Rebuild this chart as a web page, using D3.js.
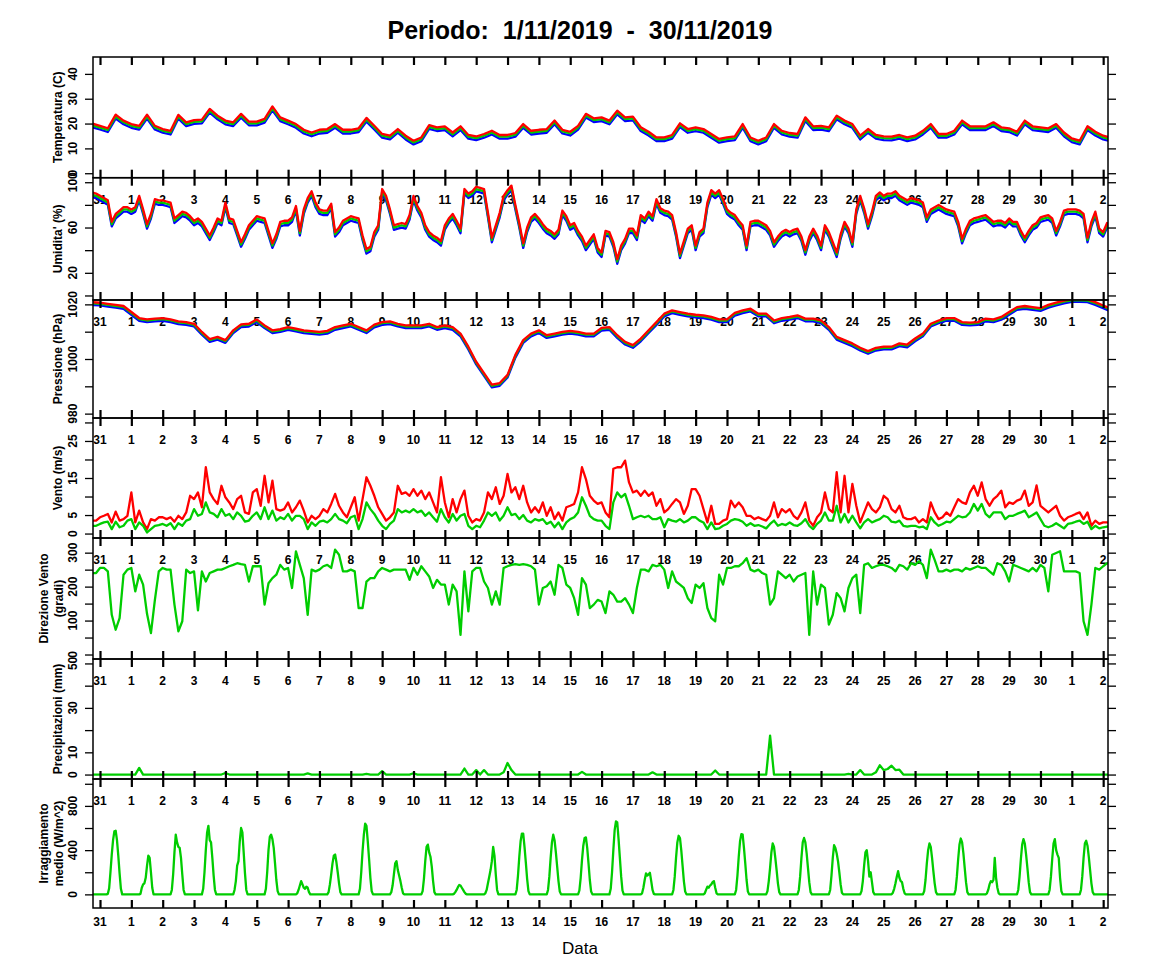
<!DOCTYPE html>
<html>
<head>
<meta charset="utf-8">
<script src="https://cdn.jsdelivr.net/npm/d3@7"></script>
<style>
  body { margin: 0; background: #fff; }
  svg { display: block; font-family: "Liberation Sans", Arial, Helvetica, sans-serif; }
</style>
</head>
<body>
<svg id="chart" width="1152" height="972"></svg>
<script>
// ─── Data ─────────────────────────────────────────────────────────────────────
// time in hours from 31/10 00:00

const dayLabels = ["31", "1", "2", "3", "4", "5", "6", "7", "8", "9", "10", "11", "12", "13", "14", "15",
  "16", "17", "18", "19", "20", "21", "22", "23", "24", "25", "26", "27", "28", "29", "30", "1", "2"];

// temperature, every 6 h from -6 h
const tempMean = [19.3, 18.4,17.4,22.8,20.5, 19.1,18.4,22.8,18.4, 17.1,16.4,22.8,19.8, 20.7,20.9,25.2,22.5,
  20.5,19.8,23.2,20.1, 20.1,21.2,26.1,21.8, 20.5,19.1,16.8,15.7, 16.8,17.1,19.1,16.8, 16.8,17.4,21.6,18.4,
  15.1,14.4,17.1,14.4, 12.4,13.7,18.7,17.8, 18.2,15.7,18.2,14.7, 14.1,15.1,16.4,14.7, 14.7,15.5,19.1,16.4,
  16.8,17.1,20.5,16.8, 16.0,18.4,23.2,21.4, 21.8,20.5,24.5,21.8, 22.1,17.8,16.0,13.7, 13.7,14.7,19.4,17.1,
  17.8,17.1,15.1,13.1, 13.7,14.1,19.1,13.7, 12.4,13.7,19.1,16.4, 15.5,15.1,21.8,18.2, 18.4,17.8,22.5,20.5,
  19.1,14.4,17.1,14.7, 14.1,14.0,14.7,13.7, 14.4,16.4,19.1,15.1, 15.1,16.4,20.5,18.2, 18.2,18.2,19.8,17.8,
  17.4,16.0,20.5,18.2, 17.8,17.4,19.1,15.7, 13.3,12.4,18.2,16.0, 14.4,13.6];
const tempMax = [20.0, 19.1,18.1,23.6,21.2, 19.8,19.1,23.6,19.1, 17.8,17.1,23.5,20.5, 21.4,21.6,25.9,23.2,
  21.2,20.5,23.9,20.8, 20.8,21.9,26.9,22.5, 21.2,19.8,17.5,16.4, 17.5,17.8,19.8,17.5, 17.5,18.1,22.3,19.1,
  15.8,15.1,17.8,15.1, 13.1,14.4,19.4,18.5, 18.9,16.4,18.9,15.4, 14.8,15.8,17.1,15.4, 15.4,16.2,19.8,17.1,
  17.5,17.8,21.2,17.5, 16.7,19.1,23.9,22.1, 22.5,21.2,25.2,22.5, 22.8,18.5,16.7,14.4, 14.4,15.4,20.1,17.8,
  18.5,17.8,15.8,13.8, 14.4,14.8,19.8,14.4, 13.1,14.4,19.8,17.1, 16.2,15.8,22.5,18.9, 19.1,18.5,23.2,21.2,
  19.8,15.1,17.8,15.4, 14.8,14.7,15.4,14.4, 15.1,17.1,19.8,15.8, 15.8,17.1,21.2,18.9, 18.9,18.9,20.5,18.5,
  18.1,16.7,21.2,18.9, 18.5,18.1,19.8,16.4, 14.0,13.1,18.9,16.7, 15.1,14.3];
const tempMin = [18.5, 17.6,16.6,22.0,19.7, 18.3,17.6,22.0,17.6, 16.3,15.6,22.0,19.0, 19.9,20.1,24.4,21.7,
  19.7,19.0,22.4,19.3, 19.3,20.4,25.3,21.0, 19.7,18.3,16.0,14.9, 16.0,16.3,18.3,16.0, 16.0,16.6,20.8,17.6,
  14.3,13.6,16.3,13.6, 11.6,12.9,17.9,17.0, 17.4,14.9,17.4,13.9, 13.3,14.3,15.6,13.9, 13.9,14.7,18.3,15.6,
  16.0,16.3,19.7,16.0, 15.2,17.6,22.4,20.6, 21.0,19.7,23.7,21.0, 21.3,17.0,15.2,12.9, 12.9,13.9,18.6,16.3,
  17.0,16.3,14.3,12.3, 12.9,13.3,18.3,12.9, 11.6,12.9,18.3,15.6, 14.7,14.3,21.0,17.4, 17.6,17.0,21.7,19.7,
  18.3,13.6,16.3,13.9, 13.3,13.2,13.9,12.9, 13.6,15.6,18.3,14.3, 14.3,15.6,19.7,17.4, 17.4,17.4,19.0,17.0,
  16.6,15.2,19.7,17.4, 17.0,16.6,18.3,14.9, 12.5,11.6,17.4,15.2, 13.6,12.8];

// relative humidity, every 3 h from -6 h
const humMean = [89, 88,
  86,84,82,63,70,73,76,76,  74,76,86,74,61,70,83,82,  82,81,80,66,69,72,71,68,  64,66,63,57,51,58,66,64,
  80,66,65,55,45,52,60,64,  68,67,66,55,44,52,63,64,  64,67,77,55,74,84,90,80,  74,73,73,79,54,58,64,66,
  68,67,66,51,39,41,54,60,  92,86,74,60,61,62,61,69,  86,77,71,60,54,51,49,46,  60,66,70,64,57,92,88,90,
  94,93,92,71,49,60,71,86,  91,95,78,62,44,58,67,70,  66,61,57,55,52,56,73,68,  60,62,55,50,42,47,52,40,
  36,55,54,45,30,42,48,57,  57,51,69,66,72,68,83,75,  73,72,69,54,35,46,57,60,  42,54,57,80,91,88,91,83,
  74,71,69,64,60,42,63,64,  64,62,60,55,45,50,54,56,  54,56,57,50,38,50,57,51,  42,60,54,45,36,52,63,57,
  45,74,86,75,61,72,86,89,  86,88,88,90,86,84,82,84,  83,82,80,67,74,76,78,76,  74,73,72,63,48,57,64,66,
  67,68,69,66,63,64,64,62,  66,63,63,55,49,55,60,62,  67,68,69,66,55,63,73,74,  74,74,73,70,49,63,72,57,
  54,62,60];
const humMax = [91, 90,
  88,86,84,65,72,75,78,78,  76,78,88,76,63,72,85,84,  84,83,82,68,71,74,73,70,  66,68,65,59,53,60,68,66,
  82,68,67,57,47,54,62,66,  70,69,68,57,46,54,65,66,  66,69,79,57,76,86,92,82,  76,75,75,81,56,60,66,68,
  70,69,68,53,41,43,56,62,  94,88,76,62,63,64,63,71,  88,79,73,62,56,53,51,48,  62,68,72,66,59,94,90,92,
  96,95,94,73,51,62,73,88,  93,97,80,64,46,60,69,72,  68,63,59,57,54,58,75,70,  62,64,57,52,44,49,54,42,
  38,57,56,47,32,44,50,59,  59,53,71,68,74,70,85,77,  75,74,71,56,37,48,59,62,  44,56,59,82,93,90,93,85,
  76,73,71,66,62,44,65,66,  66,64,62,57,47,52,56,58,  56,58,59,52,40,52,59,53,  44,62,56,47,38,54,65,59,
  47,76,88,77,63,74,88,91,  88,90,90,92,88,86,84,86,  85,84,82,69,76,78,80,78,  76,75,74,65,50,59,66,68,
  69,70,71,68,65,66,66,64,  68,65,65,57,51,57,62,64,  69,70,71,68,57,65,75,76,  76,76,75,72,51,65,74,59,
  56,64,62];
const humMin = [87, 86,
  84,82,80,61,68,71,74,74,  72,74,84,72,59,68,81,80,  80,79,78,64,67,70,69,66,  62,64,61,55,49,56,64,62,
  78,64,63,53,43,50,58,62,  66,65,64,53,42,50,61,62,  62,65,75,53,72,82,88,78,  72,71,71,77,52,56,62,64,
  66,65,64,49,37,39,52,58,  90,84,72,58,59,60,59,67,  84,75,69,58,52,49,47,44,  58,64,68,62,55,90,86,88,
  92,91,90,69,47,58,69,84,  89,93,76,60,42,56,65,68,  64,59,55,53,50,54,71,66,  58,60,53,48,40,45,50,38,
  34,53,52,43,28,40,46,55,  55,49,67,64,70,66,81,73,  71,70,67,52,33,44,55,58,  40,52,55,78,89,86,89,81,
  72,69,67,62,58,40,61,62,  62,60,58,53,43,48,52,54,  52,54,55,48,36,48,55,49,  40,58,52,43,34,50,61,55,
  43,72,84,73,59,70,84,87,  84,86,86,88,84,82,80,82,  81,80,78,65,72,74,76,74,  72,71,70,61,46,55,62,64,
  65,66,67,64,61,62,62,60,  64,61,61,53,47,53,58,60,  65,66,67,64,53,61,71,72,  72,72,71,68,47,61,70,55,
  52,60,58];

// pressure, every 6 h from -6 h
const presMean = [1020.4, 1020.2,1019.8,1019.4,1019.0, 1016.8,1014.6,1014.1,1014.4, 1014.6,1014.1,1013.4,1013.1,
  1012.5,1009.5,1006.9,1007.7, 1006.5,1010.1,1012.3,1012.5, 1014.1,1011.9,1010.1,1010.5, 1011.3,1010.7,1010.1,1009.8,
  1009.5,1009.9,1011.3,1011.9, 1012.5,1011.3,1010.1,1012.2, 1013.1,1013.4,1012.5,1011.9, 1011.9,1011.9,1012.5,1011.3,
  1011.9,1011.3,1008.9,1004.1, 998.6,994.4,990.2,990.8, 993.8,1001.1,1006.5,1008.9, 1010.1,1008.3,1008.9,1009.5,
  1009.9,1009.5,1008.9,1008.9, 1011.0,1011.3,1008.3,1005.9, 1004.7,1007.1,1010.1,1013.1, 1016.2,1017.4,1016.8,1016.2,
  1015.8,1015.6,1015.0,1014.1, 1014.1,1016.5,1017.4,1018.0, 1016.2,1016.2,1013.7,1014.6, 1015.0,1015.6,1014.4,1014.4,
  1013.7,1011.3,1007.7,1006.5, 1005.3,1003.7,1002.5,1003.7, 1004.1,1004.1,1005.3,1004.9, 1007.1,1008.9,1012.5,1013.7,
  1014.6,1014.6,1013.1,1012.9, 1013.1,1014.4,1014.1,1015.0, 1016.8,1018.6,1019.0,1018.6, 1018.2,1019.4,1020.2,1021.0,
  1021.5,1021.5,1021.4,1020.4, 1019.2,1018.0];
const presMax = [1020.8, 1020.6,1020.2,1019.8,1019.4, 1017.2,1015.0,1014.5,1014.8, 1015.0,1014.5,1013.8,1013.5,
  1012.9,1009.9,1007.3,1008.1, 1006.9,1010.5,1012.7,1012.9, 1014.5,1012.3,1010.5,1010.9, 1011.7,1011.1,1010.5,1010.2,
  1009.9,1010.3,1011.7,1012.3, 1012.9,1011.7,1010.5,1012.6, 1013.5,1013.8,1012.9,1012.3, 1012.3,1012.3,1012.9,1011.7,
  1012.3,1011.7,1009.3,1004.5, 999.0,994.8,990.6,991.2, 994.2,1001.5,1006.9,1009.3, 1010.5,1008.7,1009.3,1009.9,
  1010.3,1009.9,1009.3,1009.3, 1011.4,1011.7,1008.7,1006.3, 1005.1,1007.5,1010.5,1013.5, 1016.6,1017.8,1017.2,1016.6,
  1016.2,1016.0,1015.4,1014.5, 1014.5,1016.9,1017.8,1018.4, 1016.6,1016.6,1014.1,1015.0, 1015.4,1016.0,1014.8,1014.8,
  1014.1,1011.7,1008.1,1006.9, 1005.7,1004.1,1002.9,1004.1, 1004.5,1004.5,1005.7,1005.3, 1007.5,1009.3,1012.9,1014.1,
  1015.0,1015.0,1013.5,1013.3, 1013.5,1014.8,1014.5,1015.4, 1017.2,1019.0,1019.4,1019.0, 1018.6,1019.8,1020.6,1021.4,
  1021.9,1021.9,1021.8,1020.8, 1019.6,1018.4];
const presMin = [1019.8, 1019.6,1019.2,1018.8,1018.4, 1016.2,1014.0,1013.5,1013.8, 1014.0,1013.5,1012.8,1012.5,
  1011.9,1008.9,1006.3,1007.1, 1005.9,1009.5,1011.7,1011.9, 1013.5,1011.3,1009.5,1009.9, 1010.7,1010.1,1009.5,1009.2,
  1008.9,1009.3,1010.7,1011.3, 1011.9,1010.7,1009.5,1011.6, 1012.5,1012.8,1011.9,1011.3, 1011.3,1011.3,1011.9,1010.7,
  1011.3,1010.7,1008.3,1003.5, 998.0,993.8,989.6,990.2, 993.2,1000.5,1005.9,1008.3, 1009.5,1007.7,1008.3,1008.9,
  1009.3,1008.9,1008.3,1008.3, 1010.4,1010.7,1007.7,1005.3, 1004.1,1006.5,1009.5,1012.5, 1015.6,1016.8,1016.2,1015.6,
  1015.2,1015.0,1014.4,1013.5, 1013.5,1015.9,1016.8,1017.4, 1015.6,1015.6,1013.1,1014.0, 1014.4,1015.0,1013.8,1013.8,
  1013.1,1010.7,1007.1,1005.9, 1004.7,1003.1,1001.9,1003.1, 1003.5,1003.5,1004.7,1004.3, 1006.5,1008.3,1011.9,1013.1,
  1014.0,1014.0,1012.5,1012.3, 1012.5,1013.8,1013.5,1014.4, 1016.2,1018.0,1018.4,1018.0, 1017.6,1018.8,1019.6,1020.4,
  1020.9,1020.9,1020.8,1019.8, 1018.6,1017.4];

// wind speed, every 3 h from -6 h
const windGust = [3.5, 3.5,
  4.4,4.8,5.3,3.0,5.9,3.5,3.9,4.8,  11.1,3.0,6.2,3.0,1.2,3.9,3.5,4.4,  4.4,3.9,4.4,3.2,4.8,3.9,5.7,10.2,
  9.3,11.1,7.1,17.9,11.1,9.3,8.0,12.9,  9.8,8.4,6.6,9.3,10.2,5.7,5.3,11.1,  12.0,7.5,15.6,8.4,14.3,6.6,6.2,6.6,
  8.4,5.7,7.1,8.9,6.2,3.0,4.8,3.9,  4.8,6.6,5.7,8.0,10.7,7.5,5.7,4.4,  7.1,9.8,3.5,9.3,15.2,12.9,10.2,7.1,
  5.3,3.5,4.4,5.7,12.9,10.7,11.1,10.2,  12.0,10.2,11.6,9.3,11.1,8.4,5.7,15.2,  8.4,4.4,9.3,5.7,9.3,11.6,4.8,3.0,
  3.9,3.5,5.7,11.1,9.3,12.5,8.0,10.2,  16.1,11.1,12.5,9.3,12.9,8.4,5.7,7.1,  5.7,8.4,4.8,7.1,3.9,5.7,3.5,7.1,
  7.5,8.0,11.1,17.9,14.7,10.2,8.9,8.0,  8.4,5.7,4.4,17.5,17.9,17.9,19.7,13.8,  11.1,11.6,10.2,11.6,10.2,11.1,7.5,9.3,
  5.7,6.6,8.0,9.3,8.4,5.3,7.5,12.0,  12.0,10.2,6.6,3.0,7.5,2.6,2.6,3.5,  3.9,8.9,7.1,8.4,7.1,4.8,4.8,3.9,
  4.4,3.9,3.5,4.8,8.4,4.4,6.6,5.7,  6.6,4.8,3.9,5.7,8.4,3.5,2.1,4.4,  5.7,11.1,6.6,5.7,16.6,5.7,15.6,5.7,
  13.4,7.5,3.0,5.7,8.4,6.6,5.7,7.1,  10.2,9.3,6.6,5.7,7.5,4.4,3.9,3.9,  4.4,3.0,3.9,3.0,8.4,5.7,3.9,4.4,
  5.7,4.8,7.1,9.3,8.4,8.0,11.1,12.9,  10.2,13.8,9.3,7.5,9.3,10.2,11.6,7.1,  8.4,8.0,8.9,9.3,11.6,7.5,8.4,13.0,
  7.5,6.6,5.7,6.6,7.5,4.8,3.5,4.4,  4.8,5.3,5.7,3.9,5.7,2.1,3.5,2.6,
  3.0,3.0,2.8];
const windMean = [2.1, 2.1,
  2.6,3.0,3.2,1.2,3.2,1.7,2.1,3.5,  3.9,1.2,3.0,2.1,0.3,1.2,2.1,2.3,  2.6,2.1,2.8,1.2,2.8,2.1,3.5,3.9,
  6.6,4.8,5.3,8.4,5.7,5.3,4.4,6.6,  4.8,5.3,3.9,5.7,4.8,3.2,3.5,4.8,  5.7,3.9,7.1,3.9,6.2,3.5,4.4,3.9,
  5.3,3.5,4.8,4.8,3.9,1.2,3.0,2.1,  3.2,3.5,3.0,3.9,5.3,3.9,3.5,2.8,  4.4,4.8,1.2,3.9,8.4,6.6,5.3,3.5,
  2.1,1.2,2.6,3.5,6.6,5.7,6.2,5.7,  6.6,5.7,6.2,4.8,5.7,4.4,3.2,6.6,  4.4,3.0,5.3,3.5,4.8,5.3,2.1,1.2,
  2.1,1.7,3.5,5.7,4.8,5.7,3.5,4.8,  7.1,5.0,5.3,3.9,5.0,3.5,3.0,3.9,  3.5,3.9,2.6,3.2,1.7,3.0,1.2,3.0,
  3.9,4.4,5.7,9.8,7.5,4.8,3.9,3.5,  3.5,2.1,1.2,8.4,11.1,9.8,10.7,7.5,  3.9,4.4,4.8,4.4,4.8,3.9,3.9,4.4,
  1.7,3.9,3.5,3.2,3.9,3.0,3.5,4.4,  4.4,3.5,3.0,1.2,3.0,1.2,1.4,2.1,  2.6,3.5,3.9,3.7,3.2,2.1,2.8,2.1,
  2.3,1.9,1.4,2.6,3.5,2.1,2.6,2.3,  3.0,2.3,2.1,2.8,3.9,2.1,1.2,2.6,  3.5,5.7,3.5,3.5,7.5,3.0,5.3,3.0,
  4.8,3.0,1.4,3.0,3.9,3.0,3.5,3.9,  4.8,4.4,3.2,3.0,3.5,2.1,1.9,2.1,  2.1,1.7,1.9,1.2,4.4,3.0,2.1,2.6,
  3.2,3.0,3.9,4.8,4.4,4.6,5.7,8.0,  6.2,8.0,5.3,4.4,5.7,5.7,5.7,3.9,  4.8,4.8,5.3,5.7,6.2,4.4,5.0,5.7,
  3.9,2.1,1.7,2.1,2.8,2.1,1.4,2.6,  2.8,3.2,3.5,2.6,3.2,1.2,2.1,1.4,
  1.7,1.9,1.8];

// wind direction, every 3 h from -6 h
const windDir = [240, 240,
  255,255,245,117,73,107,235,250,  255,186,235,206,120,63,160,245,  255,250,250,147,68,98,250,240,
  245,130,245,215,240,245,250,250,  255,260,264,269,266,264,215,260,  260,260,147,210,225,235,264,250,
  255,196,304,264,225,117,250,245,  250,260,264,255,309,294,245,245,  250,245,137,137,215,225,225,245,
  255,250,245,250,250,250,250,220,  255,235,260,245,230,196,220,206,  206,147,206,186,58,245,127,245,
  255,255,215,196,147,186,147,255,  260,264,266,264,266,264,260,250,  147,196,201,215,176,264,255,206,
  196,166,117,225,206,137,147,161,  156,122,186,176,156,156,166,147,  122,196,250,250,245,264,260,264,
  250,196,245,215,206,196,166,152,  206,196,210,137,107,98,235,206,  255,255,260,260,269,284,250,245,
  250,240,235,147,166,245,235,225,  235,215,230,235,240,58,245,147,  206,196,88,117,181,166,127,196,
  225,235,122,264,269,255,260,264,  264,260,255,245,264,260,250,269,  264,274,264,225,309,279,245,245,
  250,245,250,250,245,255,250,255,  260,255,255,245,235,269,264,245,  215,264,260,255,250,245,255,245,
  264,255,186,294,299,304,245,245,  245,245,240,98,58,147,255,250,
  260,269,265];

// precipitation, every 3 h from -6 h
const rain = [0, 0,
  0,0,0,0,0,0,0,0,  0,0,3.0,0,0,0,0,0,  0,0,0,0,0,0,0,0,  0,0,0,0,0,0,0,0,
  0.7,0,0,0,0,0,0,0,  0,0,0,0,0,0,0,0,  0,0,0,0,0,0.5,0,0,  0,0,0,0,0,0,0,0,
  0,0,0,0,0.3,0,0,0,  1.5,0,0,0,0,0,0,0,  0.6,0,0,0,0,0,0,0,  0,0,0,0,0,2.7,0,0,
  2.0,0,2.0,0,0,0,0,1.0,  5.2,2.0,0,0,0,0,0,0,  0,0,0,0,0,0,0,0,  0,0,0,1.2,0,0,0,0,
  0,0,0,0,0,0,0,0,  0,0,0,0,0,1.0,0,0,  0,0,0,0,0,0,0,0,  0,0,0,0,0,1.8,0,0,
  0,0,0,0,0,0,0,0,  0,0,0,17.5,0,0,0,0,  0,0,0,0,0,0,0,0,  0,0,0,0,0,0,0,0.3,
  0,0,2.0,0,0,0,1.0,4.2,  2.0,2.5,4.0,2.0,2.2,0,0,0,  0,0,0,0,0,0,0,0,  0,0,0,0,0,0,0,0,
  0,0,0,0,0,0,0,0,  0,0,0,0,0,0,0,0,  0,0,0,0,0,0,0,0,  0,0,0,0,0,0,0,0,
  0,0,0];

// mean solar radiation, hourly from 06 to 17 for each day 31/10 .. 1/12 (night is 0)
const radByDay = [
  [5, 55, 200, 360, 490, 570, 575, 490, 350, 190, 50, 0],
  [0, 5, 60, 90, 100, 150, 260, 350, 330, 200, 60, 0],
  [0, 40, 180, 380, 540, 470, 430, 420, 330, 180, 40, 0],
  [0, 50, 200, 400, 560, 620, 490, 470, 330, 170, 40, 0],
  [0, 40, 120, 260, 300, 480, 600, 560, 380, 190, 40, 0],
  [0, 50, 200, 400, 520, 540, 500, 420, 280, 130, 30, 0],
  [0, 10, 40, 80, 120, 90, 60, 50, 70, 60, 20, 0],
  [0, 20, 90, 180, 280, 350, 360, 290, 200, 100, 20, 0],
  [0, 50, 200, 390, 540, 640, 620, 480, 320, 150, 30, 0],
  [0, 20, 80, 180, 280, 300, 220, 170, 120, 60, 10, 0],
  [0, 30, 140, 300, 430, 450, 380, 340, 250, 120, 20, 0],
  [0, 5, 20, 40, 65, 85, 80, 60, 40, 20, 5, 0],
  [0, 10, 40, 100, 160, 220, 300, 430, 350, 180, 40, 0],
  [0, 40, 170, 340, 480, 550, 550, 430, 290, 140, 30, 0],
  [0, 40, 160, 330, 470, 540, 490, 380, 250, 120, 25, 0],
  [0, 35, 150, 310, 440, 510, 515, 420, 280, 130, 25, 0],
  [0, 50, 200, 400, 580, 660, 650, 500, 330, 160, 35, 0],
  [0, 10, 60, 130, 190, 170, 180, 195, 120, 40, 5, 0],
  [0, 40, 160, 330, 470, 530, 510, 400, 260, 120, 25, 0],
  [0, 10, 40, 70, 60, 80, 90, 110, 120, 60, 10, 0],
  [0, 40, 170, 340, 480, 545, 540, 420, 280, 130, 25, 0],
  [0, 30, 120, 240, 380, 460, 430, 330, 220, 100, 20, 0],
  [0, 40, 160, 330, 470, 510, 470, 370, 240, 110, 20, 0],
  [0, 40, 170, 330, 445, 420, 370, 300, 200, 90, 15, 0],
  [0, 30, 120, 260, 380, 400, 300, 160, 200, 110, 20, 0],
  [0, 15, 50, 100, 160, 210, 150, 120, 110, 50, 10, 0],
  [0, 30, 130, 280, 400, 460, 430, 330, 210, 100, 20, 0],
  [0, 40, 160, 320, 450, 505, 470, 370, 240, 110, 20, 0],
  [0, 10, 40, 90, 120, 110, 130, 330, 150, 60, 10, 0],
  [0, 40, 160, 320, 450, 500, 460, 360, 240, 110, 20, 0],
  [0, 40, 160, 320, 460, 500, 400, 360, 330, 150, 30, 0],
  [0, 40, 160, 330, 460, 485, 440, 340, 220, 100, 20, 0]
];

// ─── Helpers ──────────────────────────────────────────────────────────────────

const BLUE = "#0000ff", GREEN = "#00cd00", RED = "#ff0000";

function series(values, start, step) {
  return values.map((v, i) => ({ t: start + i * step, v }));
}

function radiationSeries() {
  const out = [];
  for (let h = -6; h <= 774; h++) {
    const day = Math.floor(h / 24);
    const hr = ((h % 24) + 24) % 24;
    const row = radByDay[day];
    out.push({ t: h, v: row && hr >= 6 && hr <= 17 ? row[hr - 6] : 0 });
  }
  return out;
}

// ─── Layout ───────────────────────────────────────────────────────────────────

const left = 93, right = 1108;
const x = d3.scaleLinear().domain([-5.36, 771.7]).range([left, right]);
const dayTicks = dayLabels.map((d, i) => i * 24);

const panels = [
  { title: ["Temperatura (C)"], top: 57, bottom: 177.7, domain: [-1.8, 46.8],
    ticks: [0, 10, 20, 30, 40], labels: [0, 10, 20, 30, 40],
    lines: [[series(tempMin, -6, 6), BLUE], [series(tempMean, -6, 6), GREEN], [series(tempMax, -6, 6), RED]] },
  { title: ["Umidita' (%)"], top: 177.7, bottom: 300, domain: [-4, 104],
    ticks: [0, 20, 40, 60, 80, 100], labels: [20, 60, 100],
    lines: [[series(humMin, -6, 3), BLUE], [series(humMean, -6, 3), GREEN], [series(humMax, -6, 3), RED]] },
  { title: ["Pressione (hPa)"], top: 300, bottom: 418, domain: [978.4, 1021.6],
    ticks: [980, 990, 1000, 1010, 1020], labels: [980, 1000, 1020],
    lines: [[series(presMin, -6, 6), BLUE], [series(presMean, -6, 6), GREEN], [series(presMax, -6, 6), RED]] },
  { title: ["Vento (m/s)"], top: 418, bottom: 538, domain: [-1.2, 31.2],
    ticks: [0, 5, 10, 15, 20, 25, 30], labels: [0, 5, 15, 25],
    lines: [[series(windGust, -6, 3), RED], [series(windMean, -6, 3), GREEN]] },
  { title: ["Direzione Vento", "(gradi)"], top: 538, bottom: 659, domain: [-13.2, 343.2],
    ticks: [0, 50, 100, 150, 200, 250, 300], labels: [0, 100, 200, 300],
    lines: [[series(windDir, -6, 3), GREEN]] },
  { title: ["Precipitazioni (mm)"], top: 659, bottom: 779, domain: [-2, 52],
    ticks: [0, 10, 20, 30, 40, 50], labels: [0, 10, 30, 50],
    lines: [[series(rain, -6, 3), GREEN]] },
  { title: ["Irraggiamento", "medio (W/m^2)"], top: 779, bottom: 908, domain: [-123.2, 1043.2],
    ticks: [0, 200, 400, 600, 800, 1000], labels: [0, 400, 800],
    lines: [[radiationSeries(), GREEN]] }
];

const svg = d3.select("#chart");

svg.append("rect").attr("width", 1152).attr("height", 972).attr("fill", "#fff");

// ─── Title ────────────────────────────────────────────────────────────────────

svg.append("text")
  .attr("x", 580)
  .attr("y", 39)
  .attr("text-anchor", "middle")
  .attr("font-size", "25px")
  .attr("font-weight", "700")
  .style("white-space", "pre")
  .text("Periodo:  1/11/2019  -  30/11/2019");

// ─── Panels ───────────────────────────────────────────────────────────────────

panels.forEach((p, k) => {
  const y = d3.scaleLinear().domain(p.domain).range([p.bottom, p.top]);
  const g = svg.append("g");

  const clipId = "clip" + k;
  svg.append("clipPath").attr("id", clipId)
    .append("rect")
    .attr("x", left).attr("y", p.top)
    .attr("width", right - left).attr("height", p.bottom - p.top);

  const line = d3.line().x(d => x(d.t)).y(d => y(d.v));

  g.append("g").attr("clip-path", `url(#${clipId})`)
    .selectAll("path")
    .data(p.lines)
    .join("path")
    .attr("d", d => line(d[0]))
    .attr("fill", "none")
    .attr("stroke", d => d[1])
    .attr("stroke-width", 2.3)
    .attr("stroke-linejoin", "round");

  // y axes, ticks only
  const yLeft = g.append("g")
    .attr("transform", `translate(${left},0)`)
    .call(d3.axisLeft(y).tickValues(p.ticks).tickSize(8).tickFormat(""));
  const yRight = g.append("g")
    .attr("transform", `translate(${right},0)`)
    .call(d3.axisRight(y).tickValues(p.ticks).tickSize(8).tickFormat(""));
  [yLeft, yRight].forEach(a => {
    a.select(".domain").remove();
    a.selectAll("line").attr("stroke", "#000").attr("stroke-width", 1.3);
  });

  // rotated y labels
  g.selectAll(".ylab")
    .data(p.labels)
    .join("text")
    .attr("class", "ylab")
    .attr("transform", d => `translate(${left - 16.5},${y(d)}) rotate(-90)`)
    .attr("text-anchor", "middle")
    .attr("font-size", "12px")
    .attr("font-weight", "700")
    .text(d => d);

  // axis title
  const mid = (p.top + p.bottom) / 2;
  const titleX = p.title.length === 1 ? [58] : [44, 59];
  p.title.forEach((t, i) => {
    g.append("text")
      .attr("transform", `translate(${titleX[i] + 4},${mid}) rotate(-90)`)
      .attr("text-anchor", "middle")
      .attr("font-size", "12px")
      .attr("font-weight", "700")
      .text(t);
  });

  // day ticks: top pointing down, bottom pointing up
  const xTop = g.append("g")
    .attr("transform", `translate(0,${p.top})`)
    .call(d3.axisTop(x).tickValues(dayTicks).tickSize(-8).tickFormat(""));
  const xBottom = g.append("g")
    .attr("transform", `translate(0,${p.bottom})`)
    .call(d3.axisBottom(x).tickValues(dayTicks).tickSize(-8).tickFormat(""));
  [xTop, xBottom].forEach(a => {
    a.select(".domain").remove();
    a.selectAll("line").attr("stroke", "#000").attr("stroke-width", 2.2);
  });

  // day labels sit just below this panel's bottom edge
  const labelY = k === panels.length - 1 ? p.bottom + 18 : p.bottom + 26;
  g.selectAll(".dlab")
    .data(dayTicks)
    .join("text")
    .attr("class", "dlab")
    .attr("x", d => x(d))
    .attr("y", labelY)
    .attr("text-anchor", "middle")
    .attr("font-size", "12px")
    .attr("font-weight", "700")
    .text((d, i) => dayLabels[i]);

  // frame
  g.append("rect")
    .attr("x", left).attr("y", p.top)
    .attr("width", right - left).attr("height", p.bottom - p.top)
    .attr("fill", "none")
    .attr("stroke", "#000")
    .attr("stroke-width", 1.5);
});

// ─── X title ──────────────────────────────────────────────────────────────────

svg.append("text")
  .attr("x", 580)
  .attr("y", 954)
  .attr("text-anchor", "middle")
  .attr("font-size", "17px")
  .text("Data");
</script>
</body>
</html>
